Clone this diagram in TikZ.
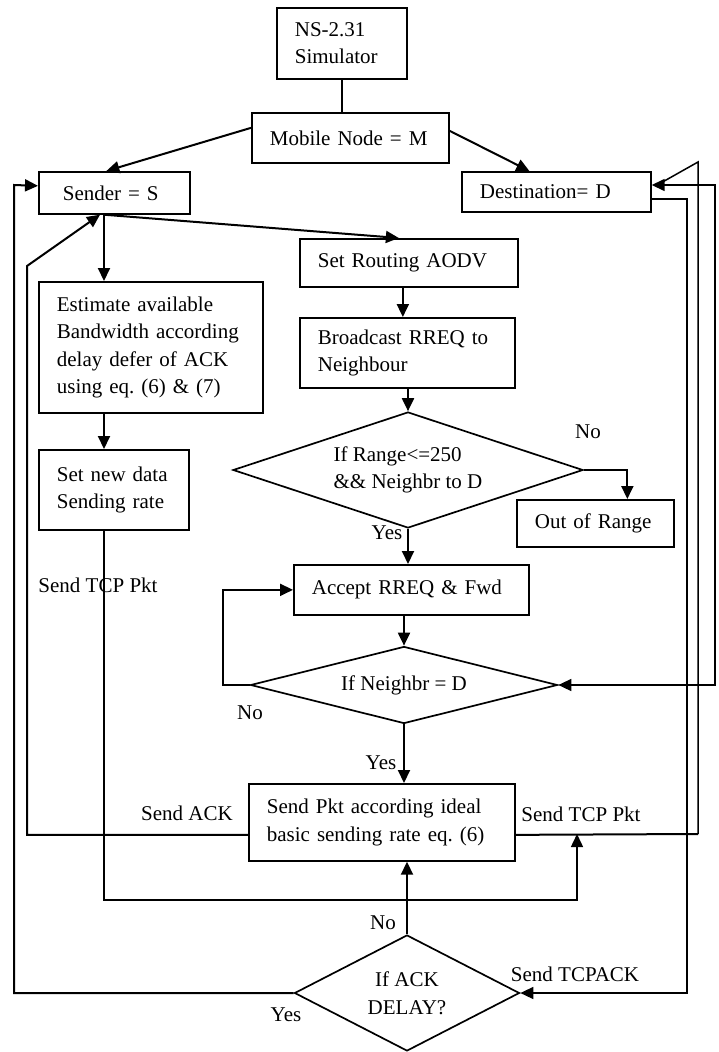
\documentclass[tikz,border=0pt]{standalone}
\usepackage{fontspec}
\setmainfont{Liberation Serif}
\usetikzlibrary{arrows.meta,shapes.geometric,calc}
\frenchspacing
\begin{document}
\begin{tikzpicture}[x=1pt,y=-1pt,
  every node/.style={font=\fontsize{21}{27.5}\selectfont},
  box/.style={draw,line width=1.7pt,rectangle,anchor=north west,inner xsep=18pt,inner ysep=2pt,align=left},
  dia/.style={draw,line width=1.7pt,diamond,inner sep=0pt},
  con/.style={line width=2pt},
  thinl/.style={line width=1.5pt},
  arr/.style={-{Triangle[length=13pt,width=12pt]}},
  lbl/.style={inner sep=0pt}
]
\useasboundingbox (0,0) rectangle (719,1052);

% boxes
\node[box,text width=94pt,minimum height=71pt] (ns) at (276,7) {\mbox{NS-2.31}\\\mbox{Simulator}};
\node[box,text width=161pt,minimum height=50pt] (mob) at (251,112) {\mbox{Mobile Node = M}};
\node[box,inner xsep=24pt,text width=103pt,minimum height=42pt] (snd) at (38,171) {\mbox{Sender = S}};
\node[box,text width=153pt,minimum height=40pt] (dst) at (461,171) {\mbox{Destination= D}};
\node[box,text width=182pt,minimum height=48pt] (rout) at (299,238) {\mbox{Set Routing AODV}};
\node[box,text width=179pt,minimum height=70pt] (bc) at (299,317) {\mbox{Broadcast RREQ to}\\\mbox{Neighbour}};
\node[box,text width=188pt,minimum height=131pt] (est) at (38,281) {\mbox{Estimate available}\\\mbox{Bandwidth according}\\\mbox{delay defer of ACK}\\\mbox{using eq. (6) \& (7)}};
\node[box,text width=114pt,minimum height=80pt] (rate) at (38,449) {\mbox{Set new data}\\\mbox{Sending rate}};
\node[box,text width=121pt,minimum height=47pt] (oor) at (516,499) {\mbox{Out of Range}};
\node[box,text width=199pt,minimum height=50pt] (acc) at (293,564) {\mbox{Accept RREQ \& Fwd}};
\node[box,text width=230pt,minimum height=77pt] (send) at (248,783) {\mbox{Send Pkt according ideal}\\\mbox{basic sending rate eq. (6)}};

% decisions
\node[dia,aspect=3,minimum width=350pt,minimum height=116pt,align=left] (rng) at (408,470) {If Range<=250\\\&\& Neighbr to D};
\node[dia,aspect=4,minimum width=307pt,minimum height=77pt] (nbr) at (404,685) {If Neighbr = D};
\node[dia,aspect=1.94,minimum width=225pt,minimum height=116pt,align=center] (ack) at (407,993) {If ACK\\DELAY?};

% labels
\node[lbl] (no1) at (588,432) {No};
\node[lbl] (yes1) at (387,533) {Yes};
\node[lbl] (no2) at (250,713) {No};
\node[lbl] (yes2) at (381,763) {Yes};
\node[lbl] (sack) at (187,813) {Send ACK};
\node[lbl] (stcp1) at (581,814) {Send TCP Pkt};
\node[lbl] (stcp2) at (98,585) {Send TCP Pkt};
\node[lbl] (no3) at (383,923) {No};
\node[lbl] (yes3) at (286,1015) {Yes};
\node[lbl] (stack) at (575,974) {Send TCPACK};

% helper coordinates
\coordinate (sb) at ($(snd.south west)+(66,0)$);
\coordinate (sk) at (27,266);
\coordinate (b1) at (104,900);
\coordinate (tcpj) at (577,834);
\coordinate (r1) at (687,993);
\coordinate (r2) at (698,162);
\coordinate (r2b) at (698,834);
\coordinate (r3) at (715,185);
\coordinate (ly) at (14,185);
\coordinate (rs) at ($(rout.south)+(-6,0)$);
\coordinate (se) at ($(send.east)+(0,12.5)$);
\coordinate (swst) at ($(send.west)+(0,12.5)$);

% connectors
\draw[con] (ns.south) -- (ns.south |- mob.north);
\draw[con,arr] ($(mob.west)+(0,-10)$) -- ($(snd.north)+(-8,0)$);
\draw[con,arr] ($(mob.east)+(0,-7)$) -- ($(dst.north)+(-27,0)$);
\draw[con,arr] (sb) -- (sb |- est.north);
\draw[con,arr] (sb) -- ($(rout.north)+(-10,0)$);
\draw[con,arr] (rs) -- (rs |- bc.north);
\draw[con,arr] (rng.north |- bc.south) -- (rng.north);
\draw[con,arr] (sb |- est.south) -- (sb |- rate.north);
\draw[con,arr] (rng.east) -| ($(oor.north)+(32,0)$);
\draw[con,arr] (rng.south) -- (rng.south |- acc.north);
\draw[con,arr] (acc.south -| nbr.north) -- (nbr.north);
\draw[con,arr] (nbr.west) -- ++(-27,0) |- (acc.west);
\draw[con,arr] (nbr.south) -- (nbr.south |- send.north);
\draw[con,arr] (swst) -| (sk) -- ($(snd.south west)+(62,0)$);
\draw[thinl,arr] (sb |- rate.south) -- (b1) -| (tcpj);
\draw[con] (se) -- (r2b);
\draw[thinl] (r2b) -- (r2) -- ($(dst.east)+(4,-6)$);
\draw[thinl,arr] ($(dst.east)+(0,7)$) -| (r1) -- (ack.east);
\draw[thinl,{Triangle[length=13pt,width=12pt]}-{Triangle[length=13pt,width=12pt]}] (dst.east |- r3) -- (r3) -- (r3 |- nbr.east) -- (nbr.east);
\draw[con,arr] (ack.west) -| (ly) -- ($(snd.west)+(0,-7)$);
\draw[con,arr] (ack.north) -- (ack.north |- send.south);
\end{tikzpicture}
\end{document}
